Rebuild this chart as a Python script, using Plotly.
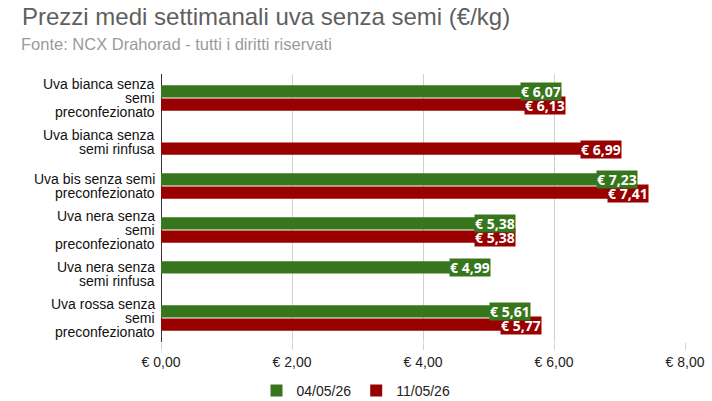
import plotly.graph_objects as go

categories = [
    "Uva bianca senza<br>semi<br>preconfezionato",
    "Uva bianca senza<br>semi rinfusa",
    "Uva bis senza semi<br>preconfezionato",
    "Uva nera senza<br>semi<br>preconfezionato",
    "Uva nera senza<br>semi rinfusa",
    "Uva rossa senza<br>semi<br>preconfezionato",
]
series_names = ["04/05/26", "11/05/26"]
values_0405 = [6.07, None, 7.23, 5.38, 4.99, 5.61]
values_1105 = [6.13, 6.99, 7.41, 5.38, None, 5.77]
tick_values = [0, 2, 4, 6, 8]
tick_labels = ["€ 0,00", "€ 2,00", "€ 4,00", "€ 6,00", "€ 8,00"]
colors = ["#38761d", "#990000"]
label_offsets = [7, -7]  # pixel offset of each series' bar within a group


def fmt(v):
    return "€ " + f"{v:.2f}".replace(".", ",")


fig = go.Figure()
value_labels = []
for name, vals, col, off in zip(series_names, [values_0405, values_1105], colors, label_offsets):
    fig.add_trace(go.Bar(
        y=categories, x=vals, name=name, orientation="h",
        marker=dict(color=col, line=dict(width=0)),
        hoverinfo="skip",
    ))
    series_labels = []
    for cat, v in zip(categories, vals):
        if v is None:
            continue
        series_labels.append(dict(
            x=v, y=cat, xref="x", yref="y", xanchor="right", yanchor="middle",
            xshift=3, yshift=off, showarrow=False, text=fmt(v),
            font=dict(family="Open Sans", size=14, color="white", weight="bold"),
            bgcolor=col, borderpad=0, height=17,
        ))
    value_labels.append(series_labels)

# draw the lower series first so the upper series' commas stay visible
annotations = value_labels[1] + value_labels[0]

# category labels, right-aligned, tight line spacing
for cat in categories:
    lines = cat.split("<br>")
    n = len(lines)
    for j, line in enumerate(lines):
        annotations.append(dict(
            x=0, y=cat, xref="paper", yref="y", xanchor="right", yanchor="middle",
            xshift=-4, yshift=((n - 1) / 2 - j) * 14, showarrow=False, text=line,
            font=dict(family="Liberation Sans, Arial, sans-serif", size=14, color="#111"),
        ))

annotations.append(dict(
    text="Fonte: NCX Drahorad - tutti i diritti riservati",
    xref="paper", yref="paper",
    x=(19 - 161) / 524, y=1 + (74 - 44) / 268,
    xanchor="left", yanchor="middle", showarrow=False,
    font=dict(family="Liberation Sans, Arial, sans-serif", size=16.5, color="#9a9a9a"),
))

fig.update_layout(
    width=712, height=401,
    margin=dict(l=161, r=27, t=74, b=59, autoexpand=False),
    paper_bgcolor="white", plot_bgcolor="white",
    barmode="group", bargap=0.4, bargroupgap=0.06,
    font=dict(family="Liberation Sans, Arial, sans-serif", size=14, color="#222"),
    title=dict(
        text="Prezzi medi settimanali uva senza semi (€/kg)",
        x=22 / 712, xref="container", xanchor="left",
        y=1 - 17 / 401, yref="container", yanchor="middle",
        font=dict(family="Liberation Sans, Arial, sans-serif", size=24, color="#5f5f5f"),
    ),
    annotations=annotations,
    xaxis=dict(
        range=[0, 8], tickvals=tick_values, ticktext=tick_labels,
        showgrid=True, gridcolor="#d0d0d0", gridwidth=1,
        zeroline=True, zerolinecolor="#333", zerolinewidth=1,
        ticks="outside", ticklen=7, tickcolor="#d0d0d0",
        tickfont=dict(size=14, color="#222"), ticklabelstandoff=0,
        fixedrange=True, automargin=False,
    ),
    yaxis=dict(
        autorange="reversed", ticks="", showgrid=False, showticklabels=False,
        automargin=False,
    ),
    legend=dict(
        orientation="h", xref="container", yref="container",
        x=0.5, xanchor="center", y=1 - 391 / 401, yanchor="middle",
        font=dict(size=14, color="#222"), itemsizing="constant",
        traceorder="normal",
    ),
)

fig.write_html("out.html")
